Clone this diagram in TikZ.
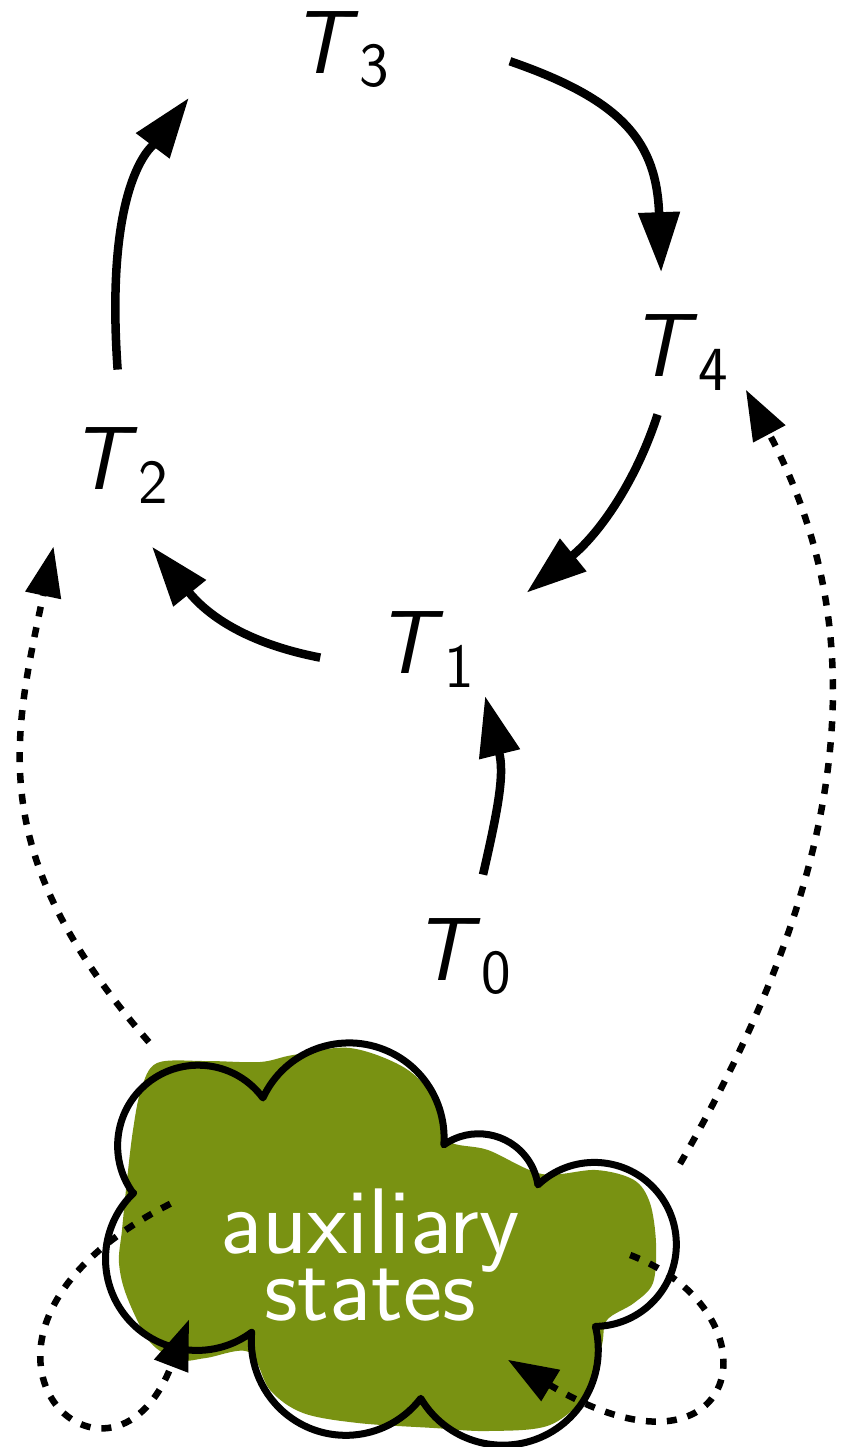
\documentclass[tikz,border=0pt]{standalone}
\usepackage{tikz}
\usetikzlibrary{arrows.meta,shapes.geometric}
\usepackage{xcolor}
\definecolor{auxgreen}{RGB}{121,146,18}
\newcommand{\tstate}[1]{\textsl{T}\textsubscript{#1}}

\begin{document}
\begin{tikzpicture}[x=0.01cm, y=0.01cm,
    state/.style={circle, minimum size=1.2cm, inner sep=0pt, outer sep=0pt, font=\sffamily\fontsize{25.5}{30}\selectfont},
    auxstate/.style={ellipse, minimum width=5.2cm, minimum height=2.6cm, inner sep=0pt, outer sep=0pt, align=center, text=white,
        font=\sffamily\fontsize{26.5}{20}\selectfont},
    trans/.style={line width=0.085cm, -{Triangle[length=0.6cm,width=0.4cm]}},
    auxtrans/.style={line width=0.065cm, dash pattern=on 0.1cm off 0.11cm, -{Triangle[length=0.5cm,width=0.35cm]}},
    cloudline/.style={line width=0.07cm, line join=round}]
    \useasboundingbox (0,0) rectangle (846,-1447);

    % cloud behind the auxiliary states
    \fill[auxgreen] plot[smooth cycle, tension=0.55] coordinates {
        (157,-1063) (206,-1061) (260,-1062) (293,-1055) (350,-1048) (405,-1068) (435,-1100) (447,-1140)
        (488,-1150) (542,-1174) (596,-1170) (634,-1180) (650,-1203) (656,-1243) (653,-1283)
        (634,-1303) (607,-1320) (602,-1345) (590,-1390) (550,-1425) (488,-1431) (434,-1428)
        (358,-1423) (303,-1413) (270,-1390) (249,-1352) (206,-1358) (179,-1360) (150,-1342)
        (127,-1297) (119,-1263) (122,-1230) (127,-1180) (133,-1130) (141,-1090)};
    \draw[cloudline] (133,-1193)
        arc[start angle=216, end angle=36.4, radius=80.5]
        arc[start angle=155.1, end angle=-4.2, radius=95]
        arc[start angle=125.4, end angle=8.5, radius=60]
        arc[start angle=133.5, end angle=-89.3, radius=82]
        arc[start angle=14.2, end angle=-149.4, radius=95.4]
        arc[start angle=-37.5, end angle=-185.2, radius=94.5]
        arc[start angle=-53.3, end angle=-226.1, radius=91.5] -- cycle;

    % states
    \node[state, minimum size=3cm] (T3) at (341,-49.5) {\tstate{3}};
    \node[state] (T4) at (680,-352.5) {\tstate{4}};
    \node[state] (T2) at (120,-465.5) {\tstate{2}};
    \node[state] (T1) at (426,-649.5) {\tstate{1}};
    \node[state] (T0) at (463,-956.5) {\tstate{0}};
    \node[auxstate] (aux) at (370,-1255) {auxiliary\\[-2pt]states};

    % cycle
    \draw[trans, shorten <=0.34cm, shorten >=0.12cm] (T2.90) .. controls +(94:224) and +(233:72) .. (T3.195);
    \draw[trans, shorten <=0.2cm, shorten >=0.21cm] (T3.358) .. controls +(-19:140) and +(92:151) .. (T4.107);
    \draw[trans, shorten <=0.04cm, shorten >=0.55cm] (T4.250) .. controls +(252:79) and +(39:145) .. (T1.21);
    \draw[trans, shorten <=0.47cm, shorten >=0.27cm] (T1.196) .. controls +(169:132) and +(309:107) .. (T2.284);
    \draw[trans, shorten <=0.22cm, shorten >=0.18cm] (T0.76) .. controls +(77:92) and +(284:98) .. (T1.332);

    % auxiliary transitions
    \draw[auxtrans, shorten <=1.34cm, shorten >=0.54cm] (aux.140) .. controls +(131:384) and +(258:254) .. (T2.207);
    \draw[auxtrans, shorten <=1cm, shorten >=0.17cm] (aux.1) .. controls +(60:430) and +(298:302) .. (T4.339);
    \draw[auxtrans, shorten <=-0.635cm, shorten >=-0.26cm] (aux.175) .. controls +(207:227) and +(249:200) .. (aux.205);
    \draw[auxtrans, shorten >=-0.07cm] (aux.0) .. controls +(339:165) and +(329:265) .. (aux.323);
\end{tikzpicture}
\end{document}
